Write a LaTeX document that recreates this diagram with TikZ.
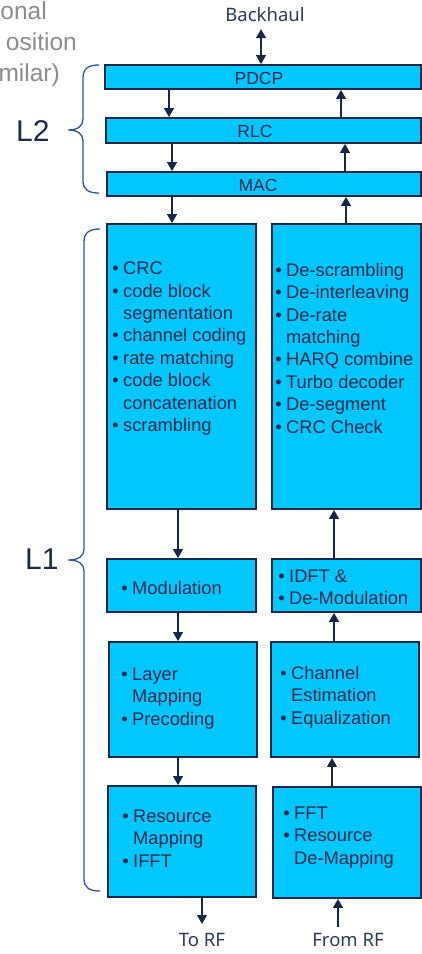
\documentclass[tikz,border=0pt]{standalone}
\usepackage{fontspec}
\setmainfont{Liberation Sans}
\newfontfamily\tagfont{Noto Sans}
\usetikzlibrary{arrows.meta}

\definecolor{boxfill}{HTML}{00C8FF}
\definecolor{ink}{HTML}{172746}
\definecolor{txt}{HTML}{1B2A4A}
\definecolor{tagtxt}{HTML}{2B3A58}
\definecolor{bracecol}{HTML}{2F5597}
\definecolor{greytxt}{HTML}{8C8C8C}

% hanging bullet in front of a list line
\newcommand\bu{\llap{\textbullet\hspace{4.3pt}}}

\begin{document}
\begin{tikzpicture}[x=1pt,y=-1pt,
  blk/.style={draw=ink, line width=1.6pt, fill=boxfill, inner sep=0pt},
  arr/.style={draw=ink, line width=2.2pt, -{Triangle[length=9pt,width=9.5pt]}},
  dblarr/.style={draw=ink, line width=2.2pt, {Triangle[length=9pt,width=9.5pt]}-{Triangle[length=9pt,width=9.5pt]}},
  bullets/.style={inner sep=0pt, anchor=base west, text=txt,
    font=\fontsize{18.3}{22.4}\selectfont},
  layername/.style={inner sep=0pt, anchor=base, text=txt,
    font=\fontsize{17.5}{20}\selectfont},
  tag/.style={inner sep=0pt, anchor=base, text=tagtxt,
    font=\tagfont\fontsize{18.5}{22}\selectfont},
  level/.style={inner sep=0pt, anchor=base west, text=txt,
    font=\fontsize{30}{34}\selectfont},
  note/.style={inner sep=0pt, anchor=base east, text=greytxt,
    font=\fontsize{24.5}{32}\selectfont},
  brace/.style={draw=bracecol, line width=1.3pt}
]
\useasboundingbox (0,0) rectangle (422,954);

% side note
\node[note] (n1) at (47,19) {onal};
\node[note] (n2) at (77,50) {osition};
\node[note] (n3) at (60,81) {milar)};

% L2 blocks
\node[blk, minimum width=316pt, minimum height=24pt] (pdcp) at (263,77) {};
\node[blk, minimum width=315pt, minimum height=25pt] (rlc) at (263.5,130.5) {};
\node[blk, minimum width=314pt, minimum height=24pt] (mac) at (264,184) {};
\node[layername] (pdcpT) at (259,84) {PDCP};
\node[layername] (rlcT) at (255,137.5) {RLC};
\node[layername] (macT) at (258,191.5) {MAC};

% L1 blocks, transmit chain (left) and receive chain (right)
\node[blk, minimum width=149pt, minimum height=285pt] (enc) at (181.5,366.5) {};
\node[blk, minimum width=149pt, minimum height=285pt] (dec) at (346.5,366.5) {};
\node[blk, minimum width=149pt, minimum height=53pt] (mod) at (181.5,585.5) {};
\node[blk, minimum width=149pt, minimum height=53pt] (idft) at (346.5,585.5) {};
\node[blk, minimum width=148pt, minimum height=115pt] (lay) at (183,699.5) {};
\node[blk, minimum width=148pt, minimum height=115pt] (chan) at (345,699.5) {};
\node[blk, minimum width=148pt, minimum height=111pt] (rmap) at (182,841.5) {};
\node[blk, minimum width=148pt, minimum height=111pt] (fft) at (347,842.5) {};

\node[bullets] (encT) at (123,274.6) {\begin{tabular}[t]{@{}l@{}}
  \bu CRC\\ \bu code block\\ segmentation\\ \bu channel coding\\
  \bu rate matching\\ \bu code block\\ concatenation\\ \bu scrambling
  \end{tabular}};
\node[bullets] (decT) at (286,276.3) {\begin{tabular}[t]{@{}l@{}}
  \bu De-scrambling\\ \bu De-interleaving\\ \bu De-rate\\ matching\\
  \bu HARQ combine\\ \bu Turbo decoder\\ \bu De-segment\\ \bu CRC Check
  \end{tabular}};
\node[bullets] (modT) at (132,594.5) {\bu Modulation};
\node[bullets] (idftT) at (289,582.5) {\begin{tabular}[t]{@{}l@{}}
  \bu IDFT \&\\ \bu De-Modulation\end{tabular}};
\node[bullets] (layT) at (132,680.5) {\begin{tabular}[t]{@{}l@{}}
  \bu Layer\\ Mapping\\ \bu Precoding\end{tabular}};
\node[bullets] (chanT) at (291,679.5) {\begin{tabular}[t]{@{}l@{}}
  \bu Channel\\ Estimation\\ \bu Equalization\end{tabular}};
\node[bullets] (rmapT) at (133,822.5) {\begin{tabular}[t]{@{}l@{}}
  \bu Resource\\ Mapping\\ \bu IFFT\end{tabular}};
\node[bullets] (fftT) at (294,819.5) {\begin{tabular}[t]{@{}l@{}}
  \bu FFT\\ \bu Resource\\ De-Mapping\end{tabular}};

% outer labels
\node[tag] (bh) at (265,21) {Backhaul};
\node[tag] (torf) at (202,946) {To RF};
\node[tag] (fromrf) at (348,946) {From RF};
\coordinate (bhEnd) at (261,29);
\coordinate (torfEnd) at (202,924);
\coordinate (fromrfEnd) at (338,927);

% arrow columns
\coordinate (xa) at (169,0);
\coordinate (xb) at (172,0);
\coordinate (xc) at (178,0);
\coordinate (xd) at (202,0);
\coordinate (xe) at (341,0);
\coordinate (xf) at (345,0);
\coordinate (xg) at (346,0);
\coordinate (xh) at (334,0);
\coordinate (xi) at (332,0);
\coordinate (xj) at (338,0);

% connectors
\draw[dblarr] (bhEnd) -- (pdcp.north -| bhEnd);
\draw[arr] (pdcp.south -| xa) -- (rlc.north -| xa);
\draw[arr] (rlc.south -| xb) -- (mac.north -| xb);
\draw[arr] (mac.south -| xb) -- (enc.north -| xb);
\draw[arr] (rlc.north -| xe) -- (pdcp.south -| xe);
\draw[arr] (mac.north -| xf) -- (rlc.south -| xf);
\draw[arr] (dec.north -| xg) -- (mac.south -| xg);

\draw[arr] (enc.south -| xc) -- (mod.north -| xc);
\draw[arr] (mod.south -| xc) -- (lay.north -| xc);
\draw[arr] (lay.south -| xc) -- (rmap.north -| xc);
\draw[arr] (rmap.south -| xd) -- (torfEnd);

\draw[arr] (idft.north -| xh) -- (dec.south -| xh);
\draw[arr] (chan.north -| xh) -- (idft.south -| xh);
\draw[arr] (fft.north -| xi) -- (chan.south -| xi);
\draw[arr] (fromrfEnd) -- (fft.south -| xj);

% layer braces
\draw[brace] (99,65) .. controls (89,65) and (83,68) .. (83,78) -- (83,119)
  .. controls (83,126) and (78,130) .. (68,130)
  .. controls (78,130) and (83,134) .. (83,141) -- (83,181)
  .. controls (83,190) and (89,193) .. (99,193);
\draw[brace] (100,229) .. controls (90,229) and (84,232) .. (84,242) -- (84,549)
  .. controls (84,556) and (79,560) .. (68,560)
  .. controls (79,560) and (84,564) .. (84,571) -- (84,879)
  .. controls (84,888) and (90,891) .. (100,891);
\node[level] (l2) at (16,141) {L2};
\node[level] (l1) at (25,569) {L1};
\end{tikzpicture}
\end{document}
